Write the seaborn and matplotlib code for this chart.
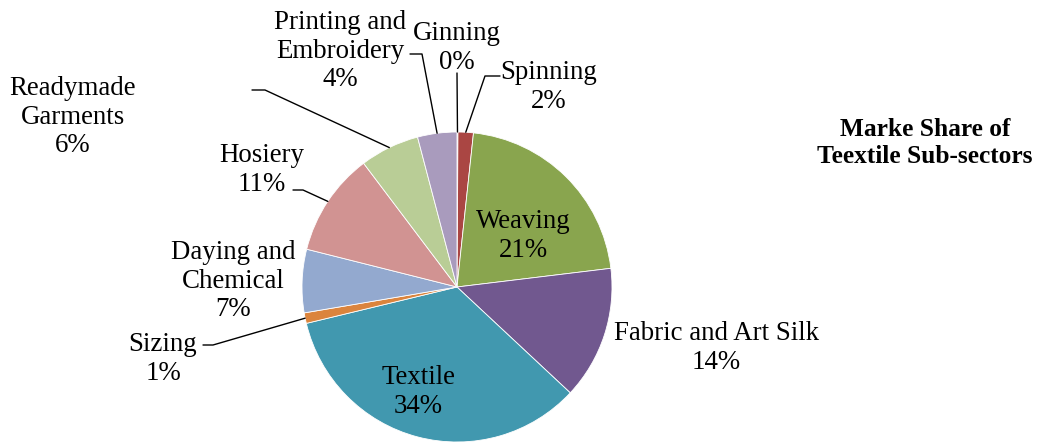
import numpy as np
import matplotlib
matplotlib.use("Agg")
import matplotlib.pyplot as plt
import seaborn as sns

# ---- data ----
sectors = ["Ginning", "Spinning", "Weaving", "Fabric and Art Silk", "Textile",
           "Sizing", "Daying and Chemical", "Hosiery", "Readymade Garments",
           "Printing and Embroidery"]
display_names = ["Ginning", "Spinning", "Weaving", "Fabric and Art Silk", "Textile",
                 "Sizing", "Daying and\nChemical", "Hosiery", "Readymade\nGarments",
                 "Printing and\nEmbroidery"]
shares = [0.1, 1.6, 21.4, 13.9, 34.3, 1.1, 6.6, 10.8, 6.2, 4.1]
colors = ["#4572A7", "#AA4643", "#89A54E", "#71588F", "#4198AF",
          "#DB843D", "#93A9CF", "#D19392", "#B9CD96", "#A99BBD"]
title = "Marke Share of\nTeextile Sub-sectors"

# ---- layout (pixel coordinates, y downward) ----
W, H = 1038, 442
center = (457, 287)
radius = 155
label_pos = [(457, 48), (549, 87), (523, 236), (716, 348), (418, 392),
             (163, 359), (233, 281), (262, 170), (73, 117), (340, 51)]
leaders = [[(457, 73)], [(500, 76), (485, 76)], None, None, None,
           [(203, 345), (213, 345)], None, [(293, 190), (303, 190)],
           [(252, 90), (265, 90)], [(410, 54), (422, 54)]]

sns.set_theme(style="white")
plt.rcParams['font.family'] = ['Liberation Serif', 'DejaVu Serif']

fig = plt.figure(figsize=(W / 100, H / 100), dpi=100)
ax = fig.add_axes([0, 0, 1, 1])

def Y(p):
    return H - p

ax.pie(shares, colors=colors, startangle=90, counterclock=False,
       center=(center[0], Y(center[1])), radius=radius,
       wedgeprops=dict(edgecolor="white", linewidth=0.6), frame=True)
ax.set_xlim(0, W)
ax.set_ylim(0, H)
ax.axis("off")

total = sum(shares)
cum = np.cumsum([0] + shares)
fs = 19.4
for i, name in enumerate(display_names):
    pct = int(round(shares[i] / total * 100))
    txt = f"{name}\n{pct}%"
    x, y = label_pos[i]
    ax.text(x, Y(y), txt, ha="center", va="center", fontsize=fs,
            color="black", linespacing=1.2)
    if leaders[i] is not None:
        mid = (cum[i] + cum[i + 1]) / 2 / total * 2 * np.pi
        ex = center[0] + radius * np.sin(mid)
        ey = center[1] - radius * np.cos(mid)
        pts = leaders[i] + [(ex, ey)]
        ax.plot([p[0] for p in pts], [Y(p[1]) for p in pts], color="black", lw=1.0)

ax.text(925, Y(143), title, ha="center", va="center", fontsize=18.3,
        fontweight="bold", color="black", linespacing=1.2)

fig.savefig("out.png", dpi=100, facecolor="white")
